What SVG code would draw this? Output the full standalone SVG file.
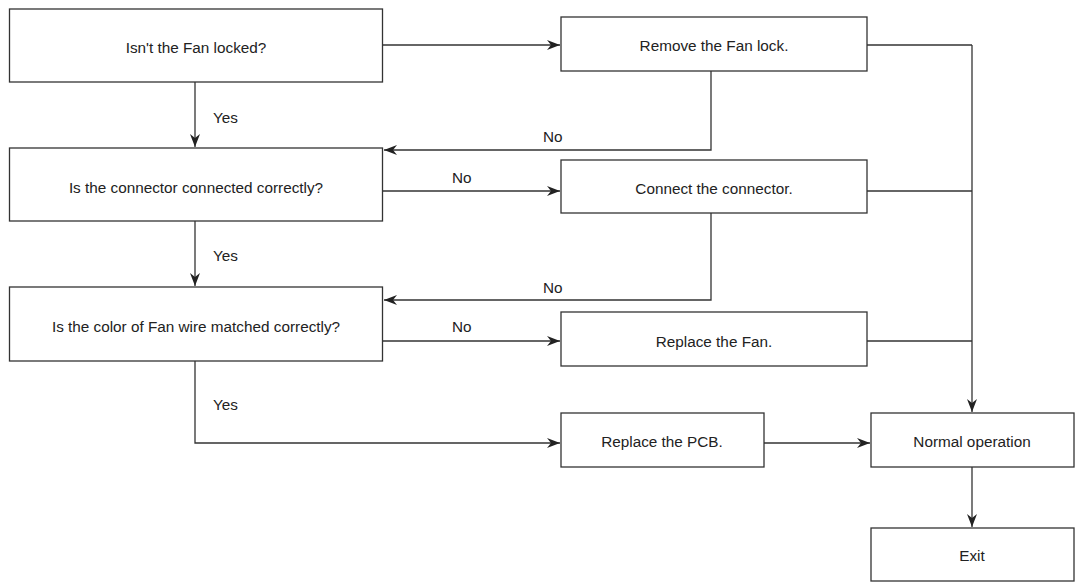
<svg xmlns="http://www.w3.org/2000/svg" width="1078" height="583" viewBox="0 0 1078 583">
<style>
.box{fill:#fff;stroke:#333;stroke-width:1.3}
.t{font-family:"Liberation Sans",Arial,sans-serif;font-size:15.3px;fill:#222;text-anchor:middle}
.l{font-family:"Liberation Sans",Arial,sans-serif;font-size:15.3px;fill:#222}
.c{fill:none;stroke:#333;stroke-width:1.3}
.a{marker-end:url(#ah)}
</style>
<defs>
<marker id="ah" markerWidth="14" markerHeight="10" refX="13" refY="5" orient="auto" markerUnits="userSpaceOnUse">
<path d="M0,0 L13,5 L0,10 L4,5 z" fill="#222"/>
</marker>
</defs>
<rect width="1078" height="583" fill="#fff"/>
<g id="connectors">
<path class="c a" d="M383,45 H560"/>
<path class="c a" d="M195,82 V147"/>
<path class="c a" d="M711,71 V150 H384"/>
<path class="c a" d="M383,191 H560"/>
<path class="c a" d="M195,221 V286"/>
<path class="c a" d="M711,213 V300 H384"/>
<path class="c a" d="M383,341 H560"/>
<path class="c a" d="M195,361 V443 H560"/>
<path class="c" d="M867,45 H972"/>
<path class="c" d="M867,191 H972"/>
<path class="c" d="M867,341 H972"/>
<path class="c a" d="M972,45 V412"/>
<path class="c a" d="M764,443 H870"/>
<path class="c a" d="M972,467 V527"/>
<text class="l" x="213" y="123">Yes</text>
<text class="l" x="213" y="261">Yes</text>
<text class="l" x="213" y="410">Yes</text>
<text class="l" x="543" y="141.5">No</text>
<text class="l" x="452" y="183">No</text>
<text class="l" x="543" y="293">No</text>
<text class="l" x="452" y="332">No</text>
</g>
<g id="n1"><rect class="box" x="9.5" y="9" width="373" height="73"/><text class="t" x="196" y="53">Isn't the Fan locked?</text></g>
<g id="n2"><rect class="box" x="9.5" y="148" width="373" height="73"/><text class="t" x="196" y="192.5">Is the connector connected correctly?</text></g>
<g id="n3"><rect class="box" x="9.5" y="287" width="373" height="74"/><text class="t" x="196" y="331.5">Is the color of Fan wire matched correctly?</text></g>
<g id="n4"><rect class="box" x="561" y="17" width="306" height="54"/><text class="t" x="714" y="51">Remove the Fan lock.</text></g>
<g id="n5"><rect class="box" x="561" y="160" width="306" height="53"/><text class="t" x="714" y="194">Connect the connector.</text></g>
<g id="n6"><rect class="box" x="561" y="312" width="306" height="54"/><text class="t" x="714" y="346.5">Replace the Fan.</text></g>
<g id="n7"><rect class="box" x="561" y="413" width="203" height="54"/><text class="t" x="662" y="447">Replace the PCB.</text></g>
<g id="n8"><rect class="box" x="871" y="413" width="203" height="54"/><text class="t" x="972" y="447">Normal operation</text></g>
<g id="n9"><rect class="box" x="871" y="528" width="203" height="53"/><text class="t" x="972" y="561">Exit</text></g>
</svg>
